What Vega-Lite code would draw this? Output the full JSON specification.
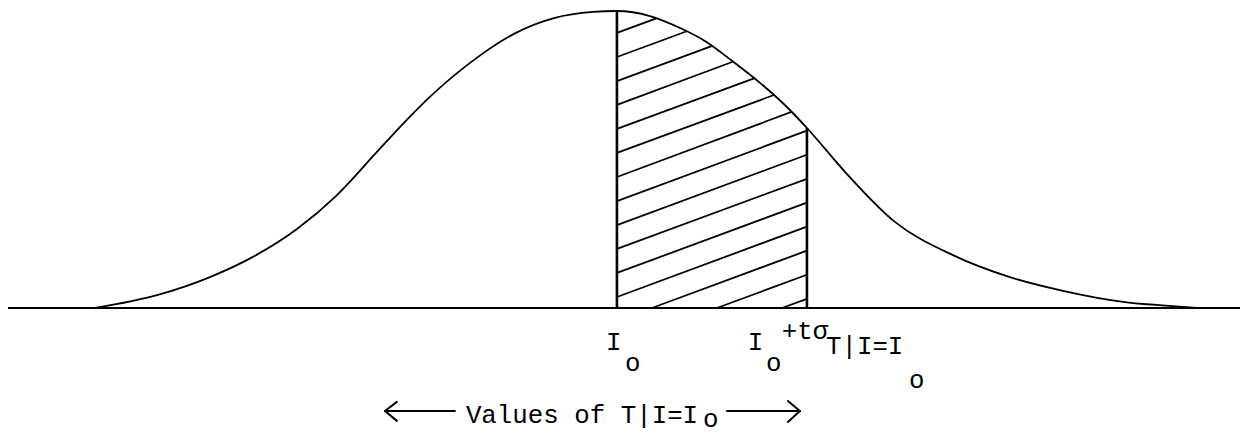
{
  "$schema": "https://vega.github.io/schema/vega-lite/v6.json",
  "width": 1243,
  "height": 435,
  "autosize": {"type": "fit", "contains": "padding"},
  "padding": 0,
  "background": "white",
  "config": {"view": {"stroke": null}},
  "datasets": {
    "curve": [
      {"t": -2.747, "density": 0.0},
      {"t": -2.416, "density": 0.044},
      {"t": -2.142, "density": 0.104},
      {"t": -1.916, "density": 0.172},
      {"t": -1.684, "density": 0.266},
      {"t": -1.479, "density": 0.377},
      {"t": -1.268, "density": 0.522},
      {"t": -1.126, "density": 0.620},
      {"t": -0.979, "density": 0.714},
      {"t": -0.747, "density": 0.838},
      {"t": -0.542, "density": 0.923},
      {"t": -0.332, "density": 0.976},
      {"t": -0.126, "density": 0.997},
      {"t": 0.0, "density": 1.0},
      {"t": 0.174, "density": 0.983},
      {"t": 0.321, "density": 0.946},
      {"t": 0.463, "density": 0.899},
      {"t": 0.6, "density": 0.835},
      {"t": 0.753, "density": 0.758},
      {"t": 0.905, "density": 0.670},
      {"t": 1.0, "density": 0.606},
      {"t": 1.205, "density": 0.455},
      {"t": 1.463, "density": 0.290},
      {"t": 1.768, "density": 0.178},
      {"t": 2.068, "density": 0.104},
      {"t": 2.347, "density": 0.058},
      {"t": 2.674, "density": 0.020},
      {"t": 2.889, "density": 0.008},
      {"t": 3.068, "density": 0.0}
    ],
    "segs": [
      {"kind": "axis", "x": -3.205, "y": 0, "x2": 3.279, "y2": 0},
      {"kind": "bound", "x": 0, "y": 0, "x2": 0, "y2": 1.0},
      {"kind": "bound", "x": 1.0, "y": 0, "x2": 1.0, "y2": 0.606},
      {"kind": "hatch", "x": 0, "y": 0.926, "x2": 0.207, "y2": 0.975},
      {"kind": "hatch", "x": 0, "y": 0.845, "x2": 0.364, "y2": 0.931},
      {"kind": "hatch", "x": 0, "y": 0.764, "x2": 0.498, "y2": 0.882},
      {"kind": "hatch", "x": 0, "y": 0.684, "x2": 0.613, "y2": 0.83},
      {"kind": "hatch", "x": 0, "y": 0.603, "x2": 0.725, "y2": 0.774},
      {"kind": "hatch", "x": 0, "y": 0.522, "x2": 0.83, "y2": 0.718},
      {"kind": "hatch", "x": 0, "y": 0.441, "x2": 0.922, "y2": 0.661},
      {"kind": "hatch", "x": 0, "y": 0.36, "x2": 1.0, "y2": 0.597},
      {"kind": "hatch", "x": 0, "y": 0.279, "x2": 1.0, "y2": 0.516},
      {"kind": "hatch", "x": 0, "y": 0.199, "x2": 1.0, "y2": 0.435},
      {"kind": "hatch", "x": 0, "y": 0.118, "x2": 1.0, "y2": 0.355},
      {"kind": "hatch", "x": 0, "y": 0.037, "x2": 1.0, "y2": 0.274},
      {"kind": "hatch", "x": 0.184, "y": 0, "x2": 1.0, "y2": 0.193},
      {"kind": "hatch", "x": 0.526, "y": 0, "x2": 1.0, "y2": 0.112},
      {"kind": "hatch", "x": 0.868, "y": 0, "x2": 1.0, "y2": 0.031},
      {"kind": "arrow", "x": -1.221, "y": -0.347, "x2": -0.853, "y2": -0.347},
      {"kind": "arrow", "x": -1.221, "y": -0.347, "x2": -1.158, "y2": -0.316},
      {"kind": "arrow", "x": -1.221, "y": -0.347, "x2": -1.158, "y2": -0.38},
      {"kind": "arrow", "x": 0.579, "y": -0.347, "x2": 0.963, "y2": -0.347},
      {"kind": "arrow", "x": 0.963, "y": -0.347, "x2": 0.9, "y2": -0.313},
      {"kind": "arrow", "x": 0.963, "y": -0.347, "x2": 0.9, "y2": -0.384}
    ],
    "labels": [
      {"x": -0.058, "y": -0.141, "text": "I"},
      {"x": 0.042, "y": -0.212, "text": "o"},
      {"x": 0.689, "y": -0.141, "text": "I"},
      {"x": 0.784, "y": -0.212, "text": "o"},
      {"x": 0.868, "y": -0.104, "text": "+tσ"},
      {"x": 1.1, "y": -0.155, "text": "T|I=I"},
      {"x": 1.537, "y": -0.269, "text": "o"},
      {"x": -0.795, "y": -0.387, "text": "Values of T|I=I"},
      {"x": 0.453, "y": -0.402, "text": "o"}
    ]
  },
  "layer": [
    {
      "data": {"name": "curve"},
      "mark": {"type": "line", "color": "black", "strokeWidth": 1.8, "interpolate": "monotone"},
      "encoding": {
        "x": {"field": "t", "type": "quantitative", "axis": null, "scale": {"domain": [-3.247, 3.295], "nice": false, "zero": false}},
        "y": {"field": "density", "type": "quantitative", "axis": null, "scale": {"domain": [-0.4276, 1.037], "nice": false, "zero": false}}
      }
    },
    {
      "data": {"name": "segs"},
      "transform": [{"filter": "datum.kind === 'axis'"}],
      "mark": {"type": "rule", "color": "black", "strokeWidth": 2.2},
      "encoding": {
        "x": {"field": "x", "type": "quantitative"},
        "y": {"field": "y", "type": "quantitative"},
        "x2": {"field": "x2"},
        "y2": {"field": "y2"}
      }
    },
    {
      "data": {"name": "segs"},
      "transform": [{"filter": "datum.kind === 'bound'"}],
      "mark": {"type": "rule", "color": "black", "strokeWidth": 2.6},
      "encoding": {
        "x": {"field": "x", "type": "quantitative"},
        "y": {"field": "y", "type": "quantitative"},
        "x2": {"field": "x2"},
        "y2": {"field": "y2"}
      }
    },
    {
      "data": {"name": "segs"},
      "transform": [{"filter": "datum.kind === 'hatch'"}],
      "mark": {"type": "rule", "color": "black", "strokeWidth": 1.8},
      "encoding": {
        "x": {"field": "x", "type": "quantitative"},
        "y": {"field": "y", "type": "quantitative"},
        "x2": {"field": "x2"},
        "y2": {"field": "y2"}
      }
    },
    {
      "data": {"name": "segs"},
      "transform": [{"filter": "datum.kind === 'arrow'"}],
      "mark": {"type": "rule", "color": "black", "strokeWidth": 2, "strokeCap": "round"},
      "encoding": {
        "x": {"field": "x", "type": "quantitative"},
        "y": {"field": "y", "type": "quantitative"},
        "x2": {"field": "x2"},
        "y2": {"field": "y2"}
      }
    },
    {
      "data": {"name": "labels"},
      "mark": {"type": "text", "align": "left", "baseline": "alphabetic", "font": "Liberation Mono", "fontSize": 25.8, "color": "black"},
      "encoding": {
        "x": {"field": "x", "type": "quantitative"},
        "y": {"field": "y", "type": "quantitative"},
        "text": {"field": "text"}
      }
    }
  ]
}
